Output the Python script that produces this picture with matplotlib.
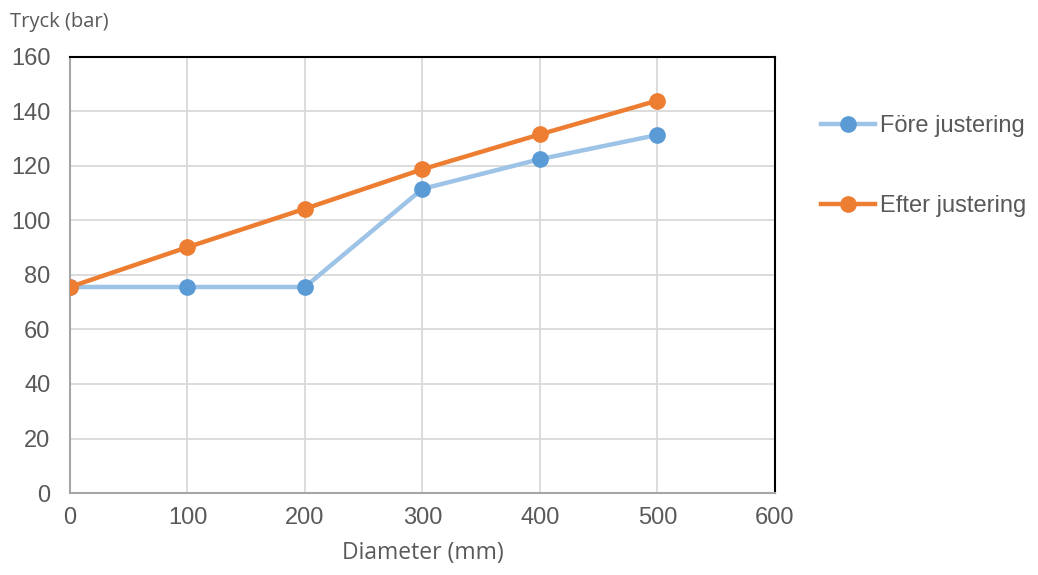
import matplotlib
matplotlib.use('Agg')
import matplotlib.pyplot as plt

# Data
diameter = [0, 100, 200, 300, 400, 500]
fore = [75.6, 75.6, 75.6, 111.6, 122.5, 131.4]
efter = [75.6, 90.2, 104.3, 118.8, 131.6, 144.0]

plt.rcParams['font.family'] = ['Liberation Sans', 'DejaVu Sans']

fig = plt.figure(figsize=(10.38, 5.75), dpi=100)
ax = fig.add_axes([0.0674, 0.1426, 0.6792, 0.7583])

ax.plot(diameter, fore, color='#9DC3E6', lw=3.2, marker='o', ms=11,
        mfc='#5B9BD5', mec='#5B9BD5', label='Före justering', zorder=3)
ax.plot(diameter, efter, color='#ED7D31', lw=3.2, marker='o', ms=11,
        mfc='#ED7D31', mec='#ED7D31', label='Efter justering', zorder=4)

ax.set_xlim(0, 600)
ax.set_ylim(0, 160)
ax.set_xticks(range(0, 601, 100))
ax.set_yticks(range(0, 161, 20))
ax.grid(True, color='#D9D9D9', lw=1.3)
ax.set_axisbelow(True)
ax.tick_params(length=0, labelsize=17, labelcolor='#595959')
ax.tick_params(axis='x', pad=10)
ax.tick_params(axis='y', pad=14)

for s in ['top', 'right']:
    ax.spines[s].set_color('black')
    ax.spines[s].set_linewidth(1.5)
for s in ['left', 'bottom']:
    ax.spines[s].set_color('#A6A6A6')
    ax.spines[s].set_linewidth(1.5)

for lbl in ax.get_xticklabels() + ax.get_yticklabels():
    lbl.set_clip_on(False)

ax.set_xlabel('Diameter (mm)', fontsize=16.5, color='#595959', family='Open Sans', labelpad=9)
fig.text(0.01, 0.962, 'Tryck (bar)', fontsize=14.5, color='#595959', family='Open Sans',
         ha='left', va='center')

ax.legend(loc='upper left', bbox_to_anchor=(1.065, 0.866), frameon=False,
          fontsize=17, labelcolor='#595959', handlelength=2.3, handletextpad=0.2,
          labelspacing=2.45, borderaxespad=0, borderpad=0)

fig.savefig('out.png', dpi=100)
